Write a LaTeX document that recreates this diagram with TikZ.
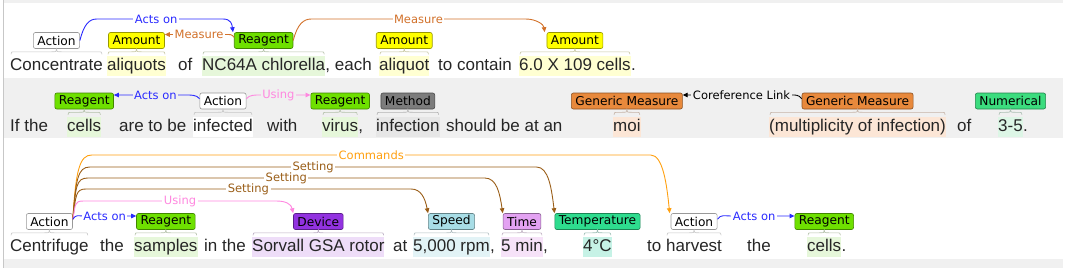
\documentclass[tikz,border=0pt]{standalone}
\usepackage{fontspec}
\setmainfont{Liberation Sans}
\newfontfamily\lblfamily{DejaVu Sans}
\usepackage{tikz}
\usetikzlibrary{arrows.meta,positioning,calc}
\newcommand{\sentfont}{\fontsize{17}{20}\selectfont}
\newcommand{\boxfont}{\lblfamily\fontsize{12.2}{14}\selectfont}
\newcommand{\arcfont}{\lblfamily\fontsize{11.5}{13}\selectfont}
\newcommand{\spanbrace}[3]{%
  \draw[#3!78!black, line width=0.6pt]
    ($(#1.north west)+(1,-1.5)$) .. controls +(0,-2.5) .. ($(#1.north west)+(6,-4)$)
    -- ($(#1.north)+(-5,-4)$) .. controls ($(#1.north)+(0,-4)$) .. (#2.south)
    .. controls ($(#1.north)+(0,-4)$) .. ($(#1.north)+(5,-4)$)
    -- ($(#1.north east)+(-6,-4)$) .. controls +(5,0) .. ($(#1.north east)+(-1,-1.5)$);}
\definecolor{rowbg}{HTML}{F0F0F0}
\definecolor{amount}{HTML}{FFFF00}
\definecolor{amounthl}{HTML}{FFFFD2}
\definecolor{reagent}{HTML}{6EE000}
\definecolor{reagenthl}{HTML}{E6F7DA}
\definecolor{method}{HTML}{7C7C7C}
\definecolor{methodhl}{HTML}{E6E6E6}
\definecolor{generic}{HTML}{E8893C}
\definecolor{generichl}{HTML}{FCE6D6}
\definecolor{numerical}{HTML}{3BDC7E}
\definecolor{numericalhl}{HTML}{DDF6E6}
\definecolor{device}{HTML}{9232E0}
\definecolor{devicehl}{HTML}{EEDDF8}
\definecolor{speed}{HTML}{A8DDE6}
\definecolor{speedhl}{HTML}{E2F3F6}
\definecolor{timec}{HTML}{E3A2F2}
\definecolor{timehl}{HTML}{F6E2F8}
\definecolor{temperature}{HTML}{2EDC8E}
\definecolor{temperaturehl}{HTML}{C6F2E6}
\definecolor{actson}{HTML}{2A2AFF}
\definecolor{measure}{HTML}{D2712A}
\definecolor{using}{HTML}{FF88E0}
\definecolor{setting}{HTML}{9A5E18}
\definecolor{commands}{HTML}{FFA010}

\begin{document}
\begin{tikzpicture}[x=1pt, y=-1pt,
  wd/.style={font=\sentfont, text=black!85, inner sep=0pt, text height=14.5pt,
             text depth=5.5pt, anchor=base west},
  hl/.style={wd, fill=#1},
  box/.style={draw=#1!60!black, fill=#1, rounded corners=2pt, font=\boxfont,
              minimum height=16pt, inner xsep=4pt, inner ysep=0pt, line width=0.6pt},
  rel/.style={color=#1, line width=0.9pt, -{Triangle[length=5pt,width=4.5pt]}},
  lbl/.style={fill=#1, font=\arcfont, inner xsep=1.5pt, inner ysep=0.5pt},
  lbl/.default=white]
\useasboundingbox (0,0) rectangle (1065,268);
\fill[rowbg] (4,0) rectangle (1063,2.5);
\fill[rowbg] (4,78) rectangle (1063,138);
\fill[rowbg] (4,259) rectangle (1063,268);
\draw[black!22, line width=1.3pt] (3.3,0) -- (3.3,268);

\coordinate (lvA) at (0,19);
\coordinate (lvM) at (0,34.5);
\coordinate (lvB) at (0,95);
\coordinate (lvCmd) at (0,155);
\coordinate (lvSa) at (0,167);
\coordinate (lvSb) at (0,178);
\coordinate (lvSc) at (0,189);
\coordinate (lvU) at (0,201);
\coordinate (lvC) at (0,216);

\node[hl=white] (conc) at (10,70.5) {Concentrate};
\node[hl=amounthl] (aliqA) at (107,70.5) {aliquots};
\node[wd] (ofA) at (178,70.5) {of};
\node[hl=reagenthl] (chlor) at (202,70.5) {NC64A chlorella};
\node[wd] (each) at (chlor.base east) {, each};
\node[hl=amounthl] (aliqB) at (379,70.5) {aliquot};
\node[wd] (contain) at (438,70.5) {to contain};
\node[hl=amounthl] (cellsA) at (519,70.5) {6.0 X 109 cells};
\node[wd] (dotA) at (cellsA.base east) {.};

\node[box=white, above=7pt of conc] (actA) {Action};
\node[box=amount, above=7pt of aliqA] (amtA) {Amount};
\node[box=reagent, above=7pt of chlor] (reaA) {Reagent};
\node[box=amount, above=7pt of aliqB] (amtB) {Amount};
\node[box=amount, above=7pt of cellsA] (amtC) {Amount};

\node[wd] (ifthe) at (10,131) {If the};
\node[hl=reagenthl] (cellsB) at (67,131) {cells};
\node[wd] (aretobe) at (119,131) {are to be};
\node[hl=white] (infected) at (193,131) {infected};
\node[wd] (with) at (267,131) {with};
\node[hl=reagenthl] (virus) at (322,131) {virus};
\node[wd] (commaB) at (virus.base east) {,};
\node[hl=methodhl] (infection) at (376,131) {infection};
\node[wd] (should) at (446,131) {should be at an};
\node[hl=generichl] (moi) at (613,131) {moi};
\node[hl=generichl] (multi) at (769,131) {(multiplicity of infection)};
\node[wd] (ofB) at (957,131) {of};
\node[hl=numericalhl] (numval) at (998,131) {3-5};
\node[wd] (dotB) at (numval.base east) {.};

\node[box=reagent, above=7pt of cellsB] (reaB) {Reagent};
\node[box=white, above=7pt of infected] (actB) {Action};
\node[box=reagent, above=7pt of virus] (reaC) {Reagent};
\node[box=method, above=7pt of infection] (metB) {Method};
\node[box=generic, above=7pt of moi] (gmA) {Generic Measure};
\node[box=generic, above=7pt of multi] (gmB) {Generic Measure};
\node[box=numerical, above=7pt of numval] (numB) {Numerical};

\node[hl=white] (centri) at (10,251.5) {Centrifuge};
\node[wd] (theC) at (100,251.5) {the};
\node[hl=reagenthl] (samples) at (134,251.5) {samples};
\node[wd] (inthe) at (204,251.5) {in the};
\node[hl=devicehl] (rotor) at (252,251.5) {Sorvall GSA rotor};
\node[wd] (atC) at (393,251.5) {at};
\node[hl=speedhl] (rpm) at (413,251.5) {5,000 rpm};
\node[wd] (commaC) at (rpm.base east) {,};
\node[hl=timehl] (minC) at (501,251.5) {5 min};
\node[wd] (commaD) at (minC.base east) {,};
\node[hl=temperaturehl] (degC) at (583,251.5) {4°C};
\node[wd] (toC) at (647,251.5) {to};
\node[hl=white] (harvest) at (666,251.5) {harvest};
\node[wd] (theD) at (747,251.5) {the};
\node[hl=reagenthl] (cellsC) at (807,251.5) {cells};
\node[wd] (dotC) at (cellsC.base east) {.};

\node[box=white, above=7pt of centri] (actC) {Action};
\node[box=reagent, above=7pt of samples] (reaD) {Reagent};
\node[box=device, above=7pt of rotor] (devC) {Device};
\node[box=speed, above=7pt of rpm] (spdC) {Speed};
\node[box=timec, above=7pt of minC] (timC) {Time};
\node[box=temperature, above=7pt of degC] (tmpC) {Temperature};
\node[box=white, above=7pt of harvest] (actD) {Action};
\node[box=reagent, above=7pt of cellsC] (reaE) {Reagent};

\spanbrace{conc}{actA}{white}
\spanbrace{aliqA}{amtA}{amounthl}
\spanbrace{chlor}{reaA}{reagenthl}
\spanbrace{aliqB}{amtB}{amounthl}
\spanbrace{cellsA}{amtC}{amounthl}
\spanbrace{cellsB}{reaB}{reagenthl}
\spanbrace{infected}{actB}{white}
\spanbrace{virus}{reaC}{reagenthl}
\spanbrace{infection}{metB}{methodhl}
\spanbrace{moi}{gmA}{generichl}
\spanbrace{multi}{gmB}{generichl}
\spanbrace{numval}{numB}{numericalhl}
\spanbrace{centri}{actC}{white}
\spanbrace{samples}{reaD}{reagenthl}
\spanbrace{rotor}{devC}{devicehl}
\spanbrace{rpm}{spdC}{speedhl}
\spanbrace{minC}{timC}{timehl}
\spanbrace{degC}{tmpC}{temperaturehl}
\spanbrace{harvest}{actD}{white}
\spanbrace{cellsC}{reaE}{reagenthl}

\draw[rel=actson] (actA.east) .. controls +(4,-16) and +(-8,0) .. ([xshift=17pt]actA.east |- lvA)
  -- node[lbl, pos=0.47] {Acts on} ([xshift=-11pt]reaA.north west |- lvA)
  .. controls +(8,0) and +(-1,-8) .. ([xshift=-1pt]reaA.north west);
\draw[rel=measure] ([yshift=-5pt]reaA.north west) .. controls +(-2,-3) and +(4,0) .. ([xshift=-8pt]reaA.north west |- lvM)
  -- node[lbl, pos=0.44] {Measure} (amtA.north east |- lvM);
\draw[rel=measure] (reaA.east) .. controls +(4,-16) and +(-8,0) .. ([xshift=18pt]reaA.east |- lvA)
  -- node[lbl] {Measure} ([xshift=-21pt]amtC.north west |- lvA)
  .. controls +(10,0) and +(-1,-8) .. ([xshift=-2pt]amtC.north west);

\draw[rel=actson] ([yshift=-6pt]actB.north west) .. controls +(-3,-4) and +(5,0) .. ([xshift=-14pt]actB.north west |- lvB)
  -- node[lbl=rowbg, pos=0.42] {Acts on} (reaB.north east |- lvB);
\draw[rel=using] ([yshift=-6pt]actB.north east) .. controls +(3,-4) and +(-5,0) .. ([xshift=14pt]actB.north east |- lvB)
  -- node[lbl=rowbg, pos=0.36] {Using} (reaC.north west |- lvB);
\draw[rel=black] ([yshift=-6pt]gmB.north west) .. controls +(-3,-4) and +(4,0) .. ([xshift=-10pt]gmB.north west |- lvB)
  -- node[lbl=rowbg, pos=0.46] {Coreference Link} (gmA.north east |- lvB);

\draw[rel=commands] ([yshift=-6pt]actC.north east) .. controls +(3,-50) and +(-12,0) .. ([xshift=19pt]actC.north east |- lvCmd)
  -- node[lbl] {Commands} ([xshift=-20pt]actD.north west |- lvCmd)
  .. controls +(12,0) and +(-3,-30) .. ([xshift=-1pt]actD.north west);
\draw[rel=setting] ([yshift=-6pt]actC.north east) .. controls +(3,-40) and +(-12,0) .. ([xshift=17pt]actC.north east |- lvSa)
  -- node[lbl] {Setting} ([xshift=-18pt]tmpC.north west |- lvSa)
  .. controls +(12,0) and +(-3,-25) .. (tmpC.north west);
\draw[rel=setting] ([yshift=-6pt]actC.north east) .. controls +(3,-32) and +(-12,0) .. ([xshift=15pt]actC.north east |- lvSb)
  -- node[lbl] {Setting} ([xshift=-18pt]timC.north west |- lvSb)
  .. controls +(12,0) and +(-3,-20) .. (timC.north west);
\draw[rel=setting] ([yshift=-6pt]actC.north east) .. controls +(3,-24) and +(-10,0) .. ([xshift=13pt]actC.north east |- lvSc)
  -- node[lbl] {Setting} ([xshift=-17pt]spdC.north west |- lvSc)
  .. controls +(10,0) and +(-3,-15) .. (spdC.north west);
\draw[rel=using] ([yshift=-6pt]actC.north east) .. controls +(3,-15) and +(-10,0) .. ([xshift=11pt]actC.north east |- lvU)
  -- node[lbl] {Using} ([xshift=-17pt]devC.north west |- lvU)
  .. controls +(10,0) and +(-2,-9) .. (devC.north west);
\draw[rel=actson] ([yshift=-6pt]actC.north east) .. controls +(3,-5) and +(-4,0) .. ([xshift=10pt]actC.north east |- lvC)
  -- node[lbl, pos=0.41] {Acts on} (reaD.north west |- lvC);
\draw[rel=actson] ([yshift=-6pt]actD.north east) .. controls +(3,-5) and +(-5,0) .. ([xshift=13pt]actD.north east |- lvC)
  -- node[lbl, pos=0.37] {Acts on} (reaE.north west |- lvC);
\end{tikzpicture}
\end{document}
